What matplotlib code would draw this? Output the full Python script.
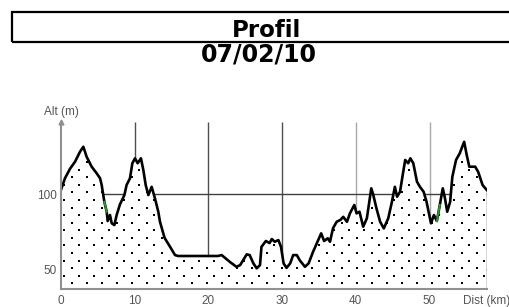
"""
Elevation profile (Profil 07/02/10) -- altitude vs distance with dotted fill.
"""
import numpy as np
import matplotlib
matplotlib.use("Agg")
import matplotlib.pyplot as plt
from matplotlib.patches import Rectangle

# --- data ---
dist_km = [0.0, 0.54, 1.22, 1.9, 2.58, 3.03, 3.48, 4.16, 4.84, 5.3,
           5.52, 5.88, 6.2, 6.33, 6.65, 6.88, 7.24, 7.55, 8.0, 8.6,
           8.9, 9.36, 9.68, 10.04, 10.4, 10.85, 11.17, 11.5, 11.85, 12.3,
           12.75, 13.2, 13.43, 14.05, 14.8, 15.47, 15.9, 21.3, 21.8, 22.9,
           23.8, 24.3, 25.2, 25.6, 26.1, 26.55, 27.0, 27.2, 27.8, 28.3,
           28.6, 29.0, 29.5, 29.85, 30.2, 30.6, 31.1, 31.5, 32.0, 32.4,
           33.1, 33.6, 34.2, 34.9, 35.3, 35.7, 36.2, 36.5, 36.9, 37.4,
           37.9, 38.3, 38.8, 39.2, 39.8, 40.1, 40.5, 41.0, 41.5, 41.8,
           42.1, 42.35, 42.8, 43.3, 43.8, 44.4, 44.9, 45.3, 45.6, 46.0,
           46.4, 46.7, 47.1, 47.4, 47.8, 48.3, 48.7, 49.2, 49.6, 50.2,
           50.6, 51.0, 51.4, 51.8, 52.1, 52.4, 52.8, 53.1, 53.6, 54.1,
           54.7, 55.05, 55.4, 56.2, 56.6, 57.2, 57.76]
alt_m = [103, 110.7, 117, 121.7, 128.4, 131.7, 125, 118.4, 114, 110.7,
         106.2, 95, 88.4, 82.2, 86.2, 80.7, 79.5, 86.2, 93.3, 99.5,
         106.2, 110.7, 120.7, 124, 120.7, 124, 116.2, 106, 99.5, 105,
         97.3, 88.4, 81.7, 71, 65, 59.5, 58.9, 58.9, 59.5, 55,
         51.7, 52.8, 60, 59.5, 54, 50.7, 52.8, 65, 68.9, 67.5,
         70.2, 68.4, 69.5, 65, 54, 51, 54, 59.5, 59.5, 56,
         51.7, 54, 61.7, 69.5, 74, 68.9, 70.7, 68.4, 77.3, 81.7,
         82.9, 85, 81.7, 87.3, 92.9, 87.3, 88.4, 78.4, 84, 94,
         104, 100, 90.7, 81.7, 77.3, 84, 95, 105, 98.4, 101.7,
         114, 122.9, 120.7, 124, 120.7, 108.4, 105, 101.7, 95, 80.7,
         86.2, 82.2, 92.9, 104, 97.3, 88.4, 95, 111.7, 122.9, 127.3,
         135, 126.2, 118.4, 118.4, 115, 106.2, 102.9]

x_ticks = [0, 10, 20, 30, 40, 50]
y_ticks = [50, 100]
grid_km = [10, 20, 30, 40, 50]
grid_colors = ['#505050', '#505050', '#505050', '#a8a8a8', '#a8a8a8']
grid_alt = [50, 100]
green_spans = [(5.6, 6.2), (50.9, 51.4)]   # small coloured stretches on the trace

title = "Profil"
subtitle = "07/02/10"

y_lo, y_hi = 36.9, 148.4
W, H = 510, 307

fig = plt.figure(figsize=(W / 100, H / 100), dpi=100)
ax = fig.add_axes([61 / W, (H - 289) / H, (486.7 - 61) / W, (289 - 121.7) / H])

km = np.array(dist_km)
alt = np.array(alt_m)

# grid lines sit behind the white profile fill
for g, c in zip(grid_km, grid_colors):
    ax.vlines(g, y_lo, y_hi, color=c, lw=1.0, zorder=1)
ax.hlines(grid_alt, 0, km[-1], color='#404040', lw=1.0, zorder=1)

poly = ax.fill_between(km, alt, y_lo, facecolor='white', edgecolor='none', zorder=2)

# staggered dot texture inside the profile
path = poly.get_paths()[0]
rows = np.arange(0, 22)
pts = []
for j in rows:
    yy = 40.7 + 5.05 * j
    xx = np.arange(1.45 - 2.035 + (j % 2) * 1.0175, km[-1], 2.035)
    pts.append(np.column_stack([xx, np.full_like(xx, yy)]))
pts = np.vstack(pts)
inside = path.contains_points(pts) & (pts[:, 0] > 0.4) & (pts[:, 0] < km[-1] - 0.3)
ax.scatter(pts[inside, 0], pts[inside, 1], s=2.0, marker='s', c='black',
           linewidths=0, zorder=3)

ax.plot(km, alt, color='black', lw=1.9, zorder=4)
for a, b in green_spans:
    m = (km >= a) & (km <= b)
    ax.plot(km[m], alt[m], color='#2a9a2a', lw=1.4, zorder=5)
ax.vlines(km[-1], y_lo, alt[-1], color='#303030', lw=1.0, zorder=4)

ax.set_xlim(0, km[-1])
ax.set_ylim(y_lo, y_hi)
for s in ['top', 'right']:
    ax.spines[s].set_visible(False)
for s in ['left', 'bottom']:
    ax.spines[s].set_color('#909090')
    ax.spines[s].set_linewidth(1.5)
    ax.spines[s].set_zorder(6)
ax.plot([0], [y_hi], marker='^', ms=3.5, color='#909090', clip_on=False, zorder=6)

lab = dict(family='Liberation Sans', fontsize=8.5, color='#555555')
ax.set_xticks(x_ticks)
ax.set_xticklabels([str(t) for t in x_ticks], **lab)
ax.set_yticks(y_ticks)
ax.set_yticklabels([str(t) for t in y_ticks], **lab)
ax.tick_params(axis='x', length=0, pad=4)
ax.tick_params(axis='y', length=0, pad=3)

ax.annotate('Dist (km)', xy=(54.5, 0), xycoords=('data', 'axes fraction'),
            xytext=(0, -4), textcoords='offset points', ha='left', va='top', **lab)
ax.annotate('Alt (m)', xy=(0, 1), xycoords='axes fraction',
            xytext=(0, 3), textcoords='offset points', ha='center', va='bottom', **lab)

# header box with title and date
fig.patches.append(Rectangle((12 / W, (H - 42) / H), 1.0, 30 / H,
                             transform=fig.transFigure, fill=False,
                             ec='black', lw=1.6))
fig.text(266 / W, (H - 36.7) / H, title, ha='center', va='baseline',
         fontsize=16.5, weight='bold', family='DejaVu Sans')
fig.text(259 / W, (H - 61) / H, subtitle, ha='center', va='baseline',
         fontsize=17, weight='bold', family='DejaVu Sans')

fig.savefig("out.png", dpi=100, facecolor='white')
